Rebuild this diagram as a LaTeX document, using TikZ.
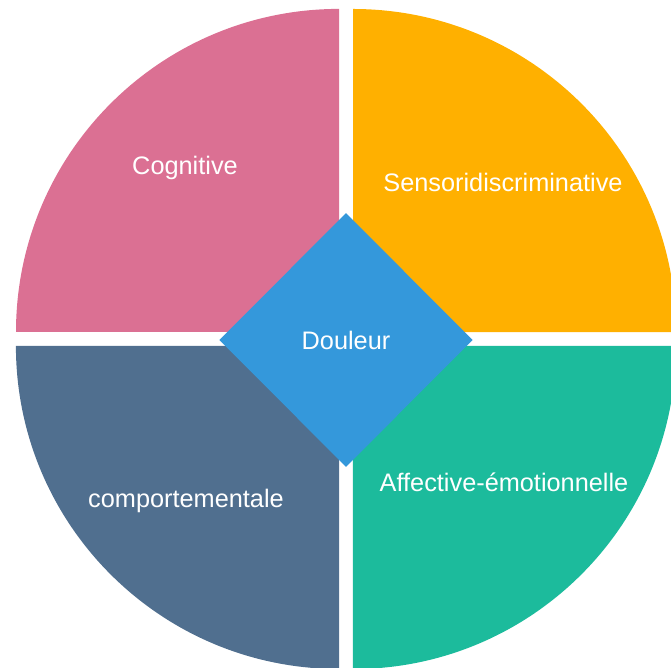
\documentclass[tikz,border=0pt]{standalone}
\usepackage{fontspec}
\setmainfont{Liberation Sans}
\usetikzlibrary{shapes.geometric}

\definecolor{kognitiv}{RGB}{219,112,147}
\definecolor{sensorisch}{RGB}{255,176,0}
\definecolor{affektiv}{RGB}{28,187,156}
\definecolor{verhalten}{RGB}{80,111,143}
\definecolor{schmerzblau}{RGB}{52,152,219}

\begin{document}
\begin{tikzpicture}[x=0.025cm, y=0.025cm,
    etikett/.style={text=white, anchor=base, font=\fontsize{18}{21}\selectfont}]
    \useasboundingbox (0,0) rectangle (671,668);
    \clip (0,0) rectangle (671,668);

    % Viertelkreise
    \fill[kognitiv] (339,336) -- (16,336) arc[start angle=180, end angle=90, radius=8.075cm] -- cycle;
    \fill[sensorisch] (353,336) -- (353,659) arc[start angle=90, end angle=0, radius=8.075cm] -- cycle;
    \fill[affektiv] (353,322) -- (676,322) arc[start angle=0, end angle=-90, radius=8.075cm] -- cycle;
    \fill[verhalten] (339,322) -- (339,-1) arc[start angle=270, end angle=180, radius=8.075cm] -- cycle;

    % Beschriftungen
    \node[etikett] (kog) at (185,493) {Cognitive};
    \node[etikett] (sens) at (503,476) {Sensoridiscriminative};
    \node[etikett] (verh) at (186,160) {comportementale};
    \node[etikett] (aff) at (504,176) {Affective-émotionnelle};

    % Raute in der Mitte
    \node[diamond, fill=schmerzblau, text=white, inner sep=0pt,
          minimum width=6.33cm, minimum height=6.35cm,
          font=\fontsize{18}{21}\selectfont] (schmerz) at (346,328) {Douleur};
\end{tikzpicture}
\end{document}
